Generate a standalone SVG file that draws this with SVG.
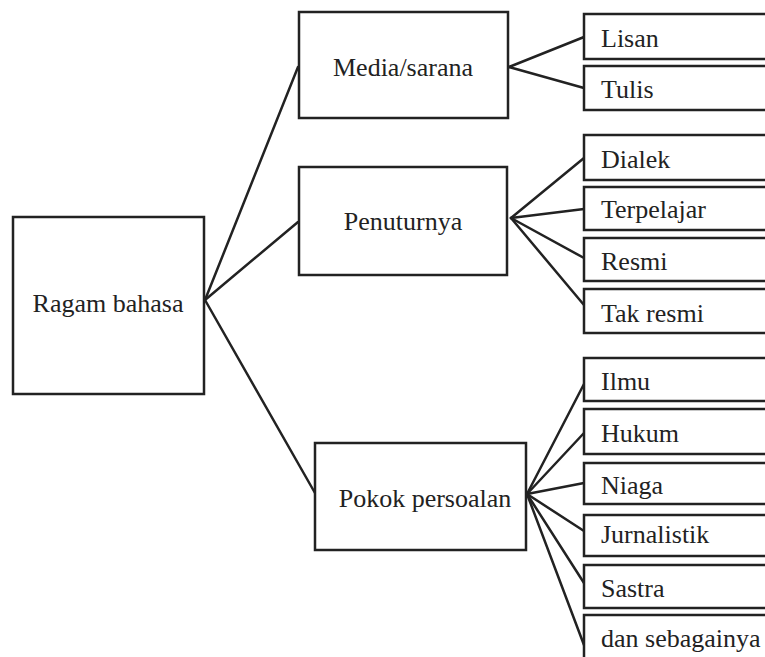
<svg xmlns="http://www.w3.org/2000/svg" width="765" height="657" viewBox="0 0 765 657">
<style>
rect{fill:#fff;stroke:#222;stroke-width:2.5}
text{font-family:"Liberation Serif","Times New Roman",serif;font-size:26px;fill:#222}
.c text{text-anchor:middle}
#connectors line{stroke:#222;stroke-width:2.5;stroke-linecap:round}
</style>
<rect x="0" y="0" width="765" height="657" style="stroke:none"/>
<g id="connectors">
<line x1="205" y1="300" x2="298" y2="67"/>
<line x1="205" y1="300" x2="298" y2="222"/>
<line x1="205" y1="300" x2="315" y2="493"/>
<line x1="509" y1="67" x2="584" y2="37"/>
<line x1="509" y1="67" x2="584" y2="88"/>
<line x1="511" y1="218" x2="584" y2="158"/>
<line x1="511" y1="218" x2="584" y2="209"/>
<line x1="511" y1="218" x2="584" y2="258"/>
<line x1="511" y1="218" x2="584" y2="305"/>
<line x1="527" y1="494" x2="584" y2="384"/>
<line x1="527" y1="494" x2="584" y2="433"/>
<line x1="527" y1="494" x2="584" y2="483"/>
<line x1="527" y1="494" x2="584" y2="531"/>
<line x1="527" y1="494" x2="584" y2="583"/>
<line x1="527" y1="494" x2="584" y2="645"/>
</g>
<g id="ragam" class="c"><rect x="13" y="217" width="191" height="177"/><text x="108" y="312">Ragam bahasa</text></g>
<g id="media" class="c"><rect x="299" y="12" width="209" height="106"/><text x="403" y="76">Media/sarana</text></g>
<g id="penutur" class="c"><rect x="299" y="167" width="208" height="108"/><text x="403" y="230">Penuturnya</text></g>
<g id="pokok" class="c"><rect x="315" y="443" width="211" height="107"/><text x="425" y="507">Pokok persoalan</text></g>
<g id="lisan"><rect x="584" y="14" width="200" height="45"/><text x="601" y="47">Lisan</text></g>
<g id="tulis"><rect x="584" y="66" width="200" height="44"/><text x="601" y="98">Tulis</text></g>
<g id="dialek"><rect x="584" y="135" width="200" height="45"/><text x="601" y="168">Dialek</text></g>
<g id="terpelajar"><rect x="584" y="187" width="200" height="43"/><text x="601" y="218">Terpelajar</text></g>
<g id="resmi"><rect x="584" y="238" width="200" height="43"/><text x="601" y="270">Resmi</text></g>
<g id="takresmi"><rect x="584" y="289" width="200" height="44"/><text x="601" y="322">Tak resmi</text></g>
<g id="ilmu"><rect x="584" y="358" width="200" height="43"/><text x="601" y="390">Ilmu</text></g>
<g id="hukum"><rect x="584" y="409" width="200" height="45"/><text x="601" y="442">Hukum</text></g>
<g id="niaga"><rect x="584" y="463" width="200" height="41"/><text x="601" y="494">Niaga</text></g>
<g id="jurnalistik"><rect x="584" y="515" width="200" height="41"/><text x="601" y="543">Jurnalistik</text></g>
<g id="sastra"><rect x="584" y="565" width="200" height="43"/><text x="601" y="597">Sastra</text></g>
<g id="dan"><rect x="584" y="615" width="200" height="60"/><text x="601" y="647">dan sebagainya</text></g>
</svg>
